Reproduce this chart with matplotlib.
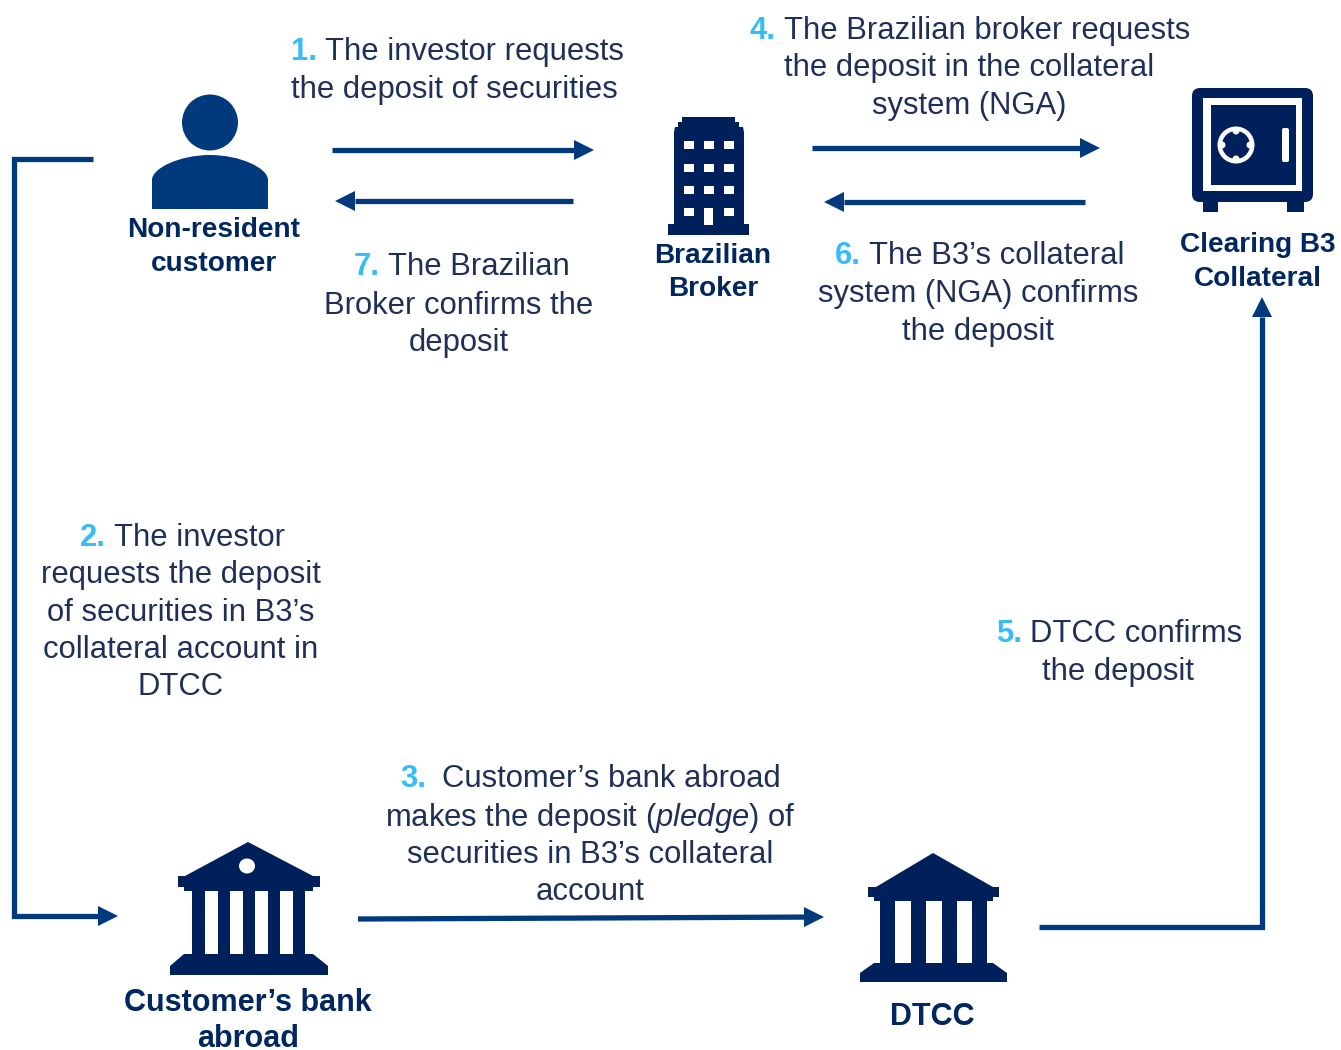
import matplotlib
matplotlib.use("Agg")
import matplotlib.pyplot as plt
from matplotlib.patches import Polygon, Circle, Ellipse, Rectangle, FancyBboxPatch, PathPatch
from matplotlib.path import Path

plt.rcParams['font.family'] = ['Liberation Sans', 'DejaVu Sans']
plt.rcParams['mathtext.fontset'] = 'custom'
plt.rcParams['mathtext.it'] = 'Liberation Sans:italic'
plt.rcParams['mathtext.rm'] = 'Liberation Sans'

NAVY = '#00205c'
BLUE = '#003a7d'
CYAN = '#35bdfb'
TEXT = '#1f3058'
BODY_PT = 22.3
TOP_LABEL_PT = 20.2
BOTTOM_LABEL_PT = 22

# (number, x of number, x of first line, baseline, first line)
numbered_steps = [
    ("1.", 291, 325, 60, "The investor requests"),
    ("4.", 750, 784, 39, "The Brazilian broker requests"),
    ("7.", 354, 388, 275, "The Brazilian"),
    ("6.", 835, 869, 264, "The B3\u2019s collateral"),
    ("2.", 80, 114, 546, "The investor"),
    ("5.", 996, 1030, 642, "DTCC confirms"),
    ("3.", 400, 442, 787, "Customer\u2019s bank abroad"),
]
# (x centre, baseline, text)
continuation_lines = [
    (454, 98, "the deposit of securities"),
    (969, 76, "the deposit in the collateral"),
    (969, 114, "system (NGA)"),
    (459, 314, "Broker confirms the"),
    (459, 351, "deposit"),
    (978, 302, "system (NGA) confirms"),
    (978, 340, "the deposit"),
    (181, 583, "requests the deposit"),
    (181, 621, "of securities in B3\u2019s"),
    (181, 658, "collateral account in"),
    (181, 695, "DTCC"),
    (1118, 680, "the deposit"),
    (590, 826, r"makes the deposit ($\mathit{pledge}$) of"),
    (590, 863, "securities in B3\u2019s collateral"),
    (590, 900, "account"),
]
top_labels = [
    (214, 237, "Non-resident"),
    (214, 271, "customer"),
    (713, 263, "Brazilian"),
    (713, 296, "Broker"),
    (1258, 252, "Clearing B3"),
    (1258, 286, "Collateral"),
]
bottom_labels = [
    (248, 1011, "Customer\u2019s bank"),
    (248, 1047, "abroad"),
    (932, 1025, "DTCC"),
]
# each arrow: list of route points, last one is the tip
arrow_routes = [
    [(332, 150), (594, 150)],
    [(573, 201), (335, 201)],
    [(812, 148), (1100, 148)],
    [(1085, 202), (824, 202)],
    [(93, 159), (14, 159), (14, 916), (118, 916)],
    [(358, 919), (824, 917)],
    [(1039, 927), (1262, 927), (1262, 297)],
]

fig = plt.figure(figsize=(13.41, 10.5), dpi=100, facecolor='white')
ax = fig.add_axes([0, 0, 1, 1])
ax.set_xlim(0, 1341)
ax.set_ylim(1050, 0)
ax.axis('off')


def arrow(route):
    HEAD_L, HEAD_H = 20, 10
    (x0, y0), (x1, y1) = route[-2], route[-1]
    d = ((x1 - x0) ** 2 + (y1 - y0) ** 2) ** .5
    ux, uy = (x1 - x0) / d, (y1 - y0) / d
    bx, by = x1 - ux * HEAD_L, y1 - uy * HEAD_L
    xs = [p[0] for p in route[:-1]] + [bx]
    ys = [p[1] for p in route[:-1]] + [by]
    ax.plot(xs, ys, color=BLUE, lw=3.8, solid_capstyle='butt', solid_joinstyle='miter')
    ax.add_patch(Polygon([(x1, y1), (bx - uy * HEAD_H, by + ux * HEAD_H),
                          (bx + uy * HEAD_H, by - ux * HEAD_H)], fc=BLUE, ec='none'))


for r in arrow_routes:
    arrow(r)


def person():
    ax.add_patch(Circle((210, 122.5), 28, fc=BLUE, ec='none'))
    verts = [(152, 209), (152, 180), (152, 168), (180, 155), (210, 155),
             (240, 155), (268, 168), (268, 180), (268, 209), (152, 209)]
    codes = [Path.MOVETO, Path.LINETO, Path.CURVE4, Path.CURVE4, Path.CURVE4,
             Path.CURVE4, Path.CURVE4, Path.CURVE4, Path.LINETO, Path.CLOSEPOLY]
    ax.add_patch(PathPatch(Path(verts, codes), fc=BLUE, ec='none'))


def building():
    ax.add_patch(Polygon([(682, 117), (735, 117), (735, 122), (739, 122), (739, 127),
                          (743, 127), (744, 132), (744, 224), (749, 224), (749, 235),
                          (668, 235), (668, 224), (674, 224), (674, 132), (675, 127),
                          (678, 127), (678, 122), (682, 122)], fc=NAVY, ec='none'))
    for wy in (145, 168, 190, 212):
        for wx in (689, 709, 729):
            if wy == 212 and wx == 709:
                continue
            ax.add_patch(Rectangle((wx - 5, wy - 4), 10, 8, fc='white', ec='none'))
    ax.add_patch(Rectangle((704, 208), 9, 17, fc='white', ec='none'))


def safe():
    ax.add_patch(FancyBboxPatch((1200, 96), 105, 98, boxstyle="round,pad=8,rounding_size=8",
                                fc=NAVY, ec='none'))
    ax.add_patch(Rectangle((1203, 98), 99, 93, fc='white', ec='none'))
    ax.add_patch(Rectangle((1211, 105), 85, 80, fc=NAVY, ec='none'))
    ax.add_patch(Rectangle((1203, 200), 15, 12, fc=NAVY, ec='none'))
    ax.add_patch(Rectangle((1287, 200), 17, 12, fc=NAVY, ec='none'))
    ax.add_patch(Circle((1236, 145), 18.5, fc='white', ec='none'))
    ax.add_patch(Circle((1236, 145), 14, fc=NAVY, ec='none'))
    for a, b in ((0, -14), (0, 14), (-14, 0), (14, 0)):
        ax.add_patch(Circle((1236 + a, 145 + b), 3.5, fc='white', ec='none'))
    ax.add_patch(FancyBboxPatch((1284, 130), 3, 30, boxstyle="round,pad=2,rounding_size=2",
                                fc='white', ec='none'))


def bank(outline, windows, top, bottom, hole=None):
    ax.add_patch(Polygon(outline, fc=NAVY, ec='none'))
    for wx0, wx1 in windows:
        ax.add_patch(Rectangle((wx0, top), wx1 - wx0, bottom - top, fc='white', ec='none'))
    if hole:
        ax.add_patch(Ellipse(hole, 16, 15, fc='white', ec='none'))


person()
building()
safe()
bank([(248, 842), (313, 876), (320, 876), (320, 887), (313, 887), (313, 891), (305, 891),
      (305, 954), (313, 954), (328, 966), (328, 975), (170, 975), (170, 966), (184, 954),
      (192, 954), (192, 891), (184, 891), (184, 887), (178, 887), (178, 876), (185, 876)],
     [(205, 218), (230, 243), (255, 268), (280, 293)], 891, 954, hole=(247, 866))
bank([(933, 853), (993, 887), (999, 887), (999, 897), (993, 897), (993, 901), (987, 901),
      (987, 963), (993, 963), (1007, 973), (1007, 982), (860, 982), (860, 973), (874, 963),
      (880, 963), (880, 901), (874, 901), (874, 897), (868, 897), (868, 887), (876, 887)],
     [(895, 911), (926, 942), (957, 972)], 901, 963)

for num, nx, tx, base, line in numbered_steps:
    ax.text(nx, base, num, color=CYAN, fontsize=BODY_PT, fontweight='bold', ha='left', va='baseline')
    ax.text(tx, base, line, color=TEXT, fontsize=BODY_PT, ha='left', va='baseline')
for x, base, line in continuation_lines:
    ax.text(x, base, line, color=TEXT, fontsize=BODY_PT, ha='center', va='baseline')
for x, base, line in top_labels:
    ax.text(x, base, line, color='#00275f', fontsize=TOP_LABEL_PT, fontweight='bold', ha='center', va='baseline')
for x, base, line in bottom_labels:
    ax.text(x, base, line, color='#00275f', fontsize=BOTTOM_LABEL_PT, fontweight='bold', ha='center', va='baseline')

fig.savefig('out.png', dpi=100)
